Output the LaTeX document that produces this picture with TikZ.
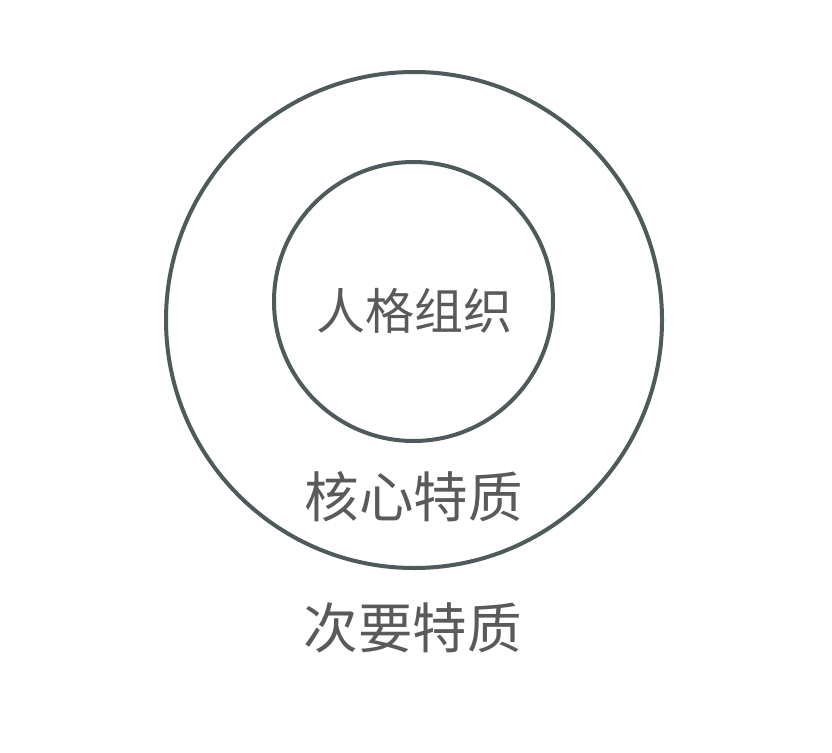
\documentclass[tikz,border=0pt]{standalone}
\usepackage{fontspec}
\newfontfamily\cjk{Noto Sans CJK SC}
\definecolor{ringc}{HTML}{4F5A5D}
\definecolor{txtc}{HTML}{5A5A5A}
\begin{document}
\begin{tikzpicture}[x=1pt,y=-1pt,
  ring/.style={draw=ringc,line width=4pt,circle,inner sep=0pt},
  lbl/.style={text=txtc,font=\cjk\fontsize{54.5}{60}\selectfont,inner sep=0pt}]
\useasboundingbox[fill=white] (0,0) rectangle (832,752);
\node[ring,minimum size=496pt] (outer) at (414,320) {};
\node[ring,minimum size=279pt] (inner) at (413.5,301.5) {};
\node[lbl,font=\cjk\fontsize{49}{55}\selectfont] (t1) at (414,311) {人格组织};
\node[lbl] (t2) at (413.5,497) {核心特质};
\node[lbl] (t3) at (412.5,628) {次要特质};
\end{tikzpicture}
\end{document}
